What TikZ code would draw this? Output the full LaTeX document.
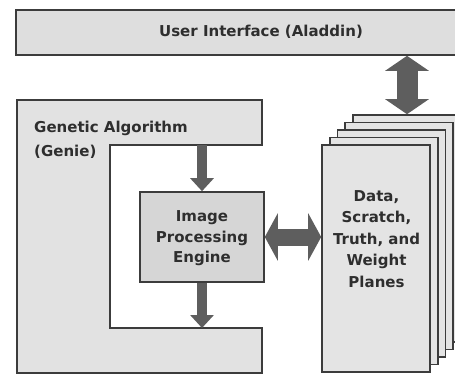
\documentclass[tikz,border=0pt]{standalone}
\usepackage{fontspec}
\setmainfont{DejaVu Sans}
\usetikzlibrary{arrows.meta}
\definecolor{edge}{HTML}{3C3C3C}
\definecolor{arrowgray}{HTML}{5E5E5E}
\definecolor{uifill}{HTML}{DEDEDE}
\definecolor{gafill}{HTML}{E2E2E2}
\definecolor{ipefill}{HTML}{D6D6D6}
\definecolor{planefill}{HTML}{E4E4E4}
\definecolor{txt}{HTML}{2E2E2E}
\begin{document}
\begin{tikzpicture}[x=1pt,y=-1pt,
  box/.style={draw=edge, line width=1.6pt, rectangle, inner sep=0pt},
  lbl/.style={font=\fontsize{15}{21}\selectfont\bfseries, text=txt, align=center, inner sep=0pt},
  onearrow/.style={draw=arrowgray, line width=10pt, -{Triangle[width=23pt,length=13pt]}},
  hdbl/.style={draw=arrowgray, line width=17pt, {Triangle[width=47pt,length=13pt]}-{Triangle[width=47pt,length=13pt]}},
  vdbl/.style={draw=arrowgray, line width=21pt, {Triangle[width=43pt,length=15pt]}-{Triangle[width=43pt,length=15pt]}}]
\useasboundingbox (0,0) rectangle (455,378);
\fill[white] (0,0) rectangle (455,378);

% User interface
\node[box, fill=uifill, minimum width=454pt, minimum height=45pt] (ui) at (243,32.5) {};
\node[lbl] (uitext) at (261,32) {User Interface (Aladdin)};

% Genetic algorithm C-shape
\draw[draw=edge, line width=1.6pt, fill=gafill, line join=miter]
  (17,100) -- (262,100) -- (262,145) -- (110,145) -- (110,328) -- (262,328)
  -- (262,373) -- (17,373) -- cycle;
\coordinate (gatop) at (202,145);
\coordinate (gabot) at (202,328);
\node[lbl, align=left, anchor=base west, font=\fontsize{15}{24}\selectfont\bfseries] (gatext) at (34,156)
  {Genetic Algorithm\\(Genie)};

% Image processing engine
\node[box, fill=ipefill, minimum width=124pt, minimum height=90pt] (ipe) at (202,237) {};
\node[lbl, font=\fontsize{15}{20.5}\selectfont\bfseries] (ipetext) at (202,238.5) {Image\\Processing\\Engine};

% planes stack
\foreach \i in {4,3,2,1} {
  \node[box, fill=planefill, minimum width=108pt, minimum height=227pt]
    (p\i) at ({376+7.75*\i},{258.5-7.5*\i}) {};
}
\node[box, fill=planefill, minimum width=108pt, minimum height=227pt] (planes) at (376,258.5) {};
\node[lbl, font=\fontsize{15}{21.5}\selectfont\bfseries] (planestext) at (376.5,239) {Data,\\Scratch,\\Truth, and\\Weight\\Planes};

% arrows
\draw[onearrow] (gatop) -- (ipe.north);
\draw[onearrow] (ipe.south) -- (gabot);
\draw[hdbl] (ipe.east) -- (ipe.east -| planes.west);
\draw[vdbl] (p4.north) -- (p4.north |- ui.south);
\end{tikzpicture}
\end{document}
